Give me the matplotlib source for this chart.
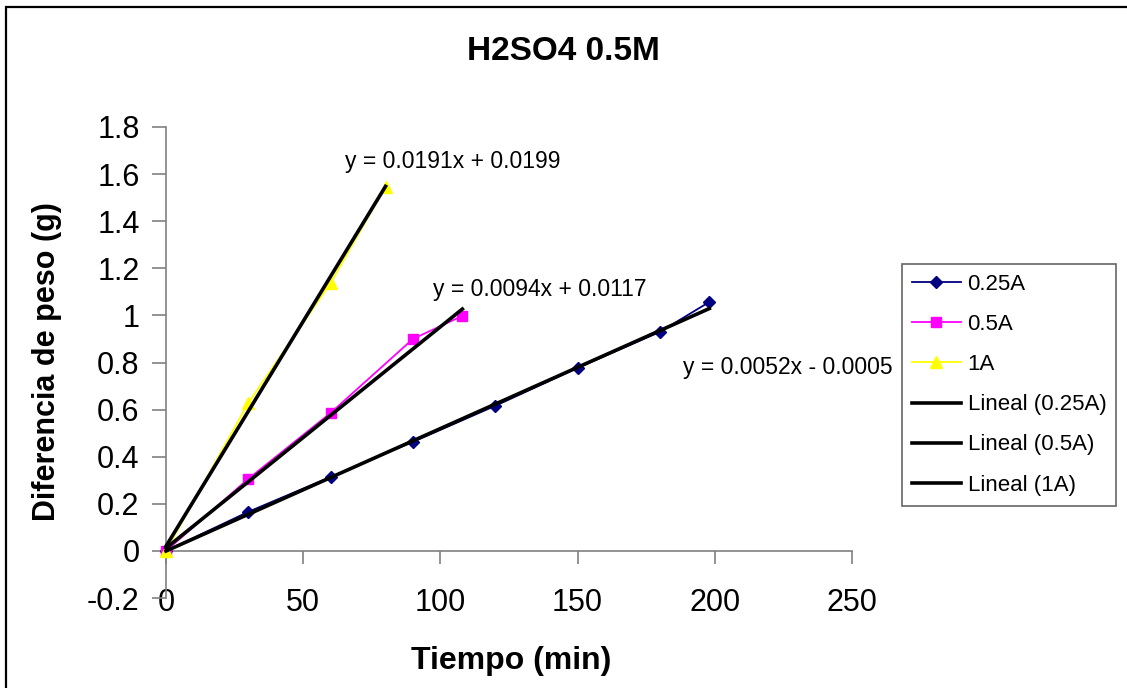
import numpy as np
import matplotlib
matplotlib.use("Agg")
import matplotlib.pyplot as plt
from matplotlib.patches import Rectangle
from matplotlib.ticker import FuncFormatter

plt.rcParams['font.family'] = ['Liberation Sans', 'DejaVu Sans']

# weight difference (g) vs time (min) for each current
t_025 = [0, 30, 60, 90, 120, 150, 180, 198]
w_025 = [0, 0.166, 0.314, 0.463, 0.616, 0.777, 0.93, 1.057]
t_05 = [0, 30, 60, 90, 108]
w_05 = [0, 0.306, 0.586, 0.90, 0.998]
t_1 = [0, 30, 60, 80]
w_1 = [0, 0.628, 1.138, 1.546]

labels = ['0.25A', '0.5A', '1A']
colors = ['#000080', '#FF00FF', '#FFFF00']
markers = ['D', 's', '^']
msizes = [6.5, 7.5, 9]

# linear fits (slope, intercept) as printed on the chart
fits = [(0.0052, -0.0005), (0.0094, 0.0117), (0.0191, 0.0199)]
fit_text = ['y = 0.0052x - 0.0005', 'y = 0.0094x + 0.0117', 'y = 0.0191x + 0.0199']
fit_pos = [(188.3, 0.777), (97.3, 1.112), (65.2, 1.652)]

fig = plt.figure(figsize=(11.27, 6.88), dpi=100)
ax = fig.add_axes([166/1127, 1 - 598/688, 686/1127, 471/688])

series = [(t_025, w_025), (t_05, w_05), (t_1, w_1)]
handles = []
for (t, w), lab, c, m, ms in zip(series, labels, colors, markers, msizes):
    h, = ax.plot(t, w, color=c, lw=1.3, marker=m, ms=ms, mfc=c, mec=c,
                 label=lab, zorder=3, clip_on=False)
    handles.append(h)

for (t, w), (a, b), lab in zip(series, fits, labels):
    xs = np.array([0, max(t)])
    h, = ax.plot(xs, a * xs + b, color='black', lw=2.6,
                 label='Lineal (%s)' % lab, zorder=4, clip_on=False)
    handles.append(h)

for txt, (x, y) in zip(fit_text, fit_pos):
    ax.text(x, y, txt, fontsize=16.5, ha='left', va='center')

ax.set_xlim(0, 250)
ax.set_ylim(-0.2, 1.8)
ax.set_xticks(np.arange(0, 251, 50))
ax.set_yticks(np.arange(-0.2, 1.81, 0.2))
ax.yaxis.set_major_formatter(FuncFormatter(lambda v, p: '%g' % round(v, 1)))

for s in ['top', 'right']:
    ax.spines[s].set_visible(False)
ax.spines['bottom'].set_position(('data', 0))
for s in ['left', 'bottom']:
    ax.spines[s].set_color('#808080')
    ax.spines[s].set_linewidth(1.2)

ax.tick_params(axis='x', direction='out', length=9, width=1.2, color='#808080',
               labelsize=22, pad=18)
ax.tick_params(axis='y', direction='out', length=10, width=1.2, color='#808080',
               labelsize=22, pad=9)

fig.text(0.5, 1 - 52/688, 'H2SO4 0.5M', fontsize=24, fontweight='bold',
         ha='center', va='center')
fig.text(511/1127, 1 - 661/688, 'Tiempo (min)', fontsize=23, fontweight='bold',
         ha='center', va='center')
fig.text(47/1127, 1 - 362/688, 'Diferencia de peso (g)', fontsize=22,
         fontweight='bold', rotation=90, ha='center', va='center')

leg = fig.legend(handles=handles, loc='upper left',
                 bbox_to_anchor=(902/1127, 1 - 264/688),
                 bbox_transform=fig.transFigure, borderaxespad=0,
                 fontsize=16, frameon=True, fancybox=False,
                 handlelength=2.2, handletextpad=0.3, labelspacing=0.86,
                 borderpad=0.45, markerscale=0.9)
leg.get_frame().set_edgecolor('#404040')
leg.get_frame().set_linewidth(1.2)

# outer chart frame
fig.patches.append(Rectangle((6/1127, -0.5), 2, 0.5 + 1 - 7/688,
                             transform=fig.transFigure, fill=False,
                             edgecolor='black', lw=1.6))

fig.savefig('out.png', dpi=100)
